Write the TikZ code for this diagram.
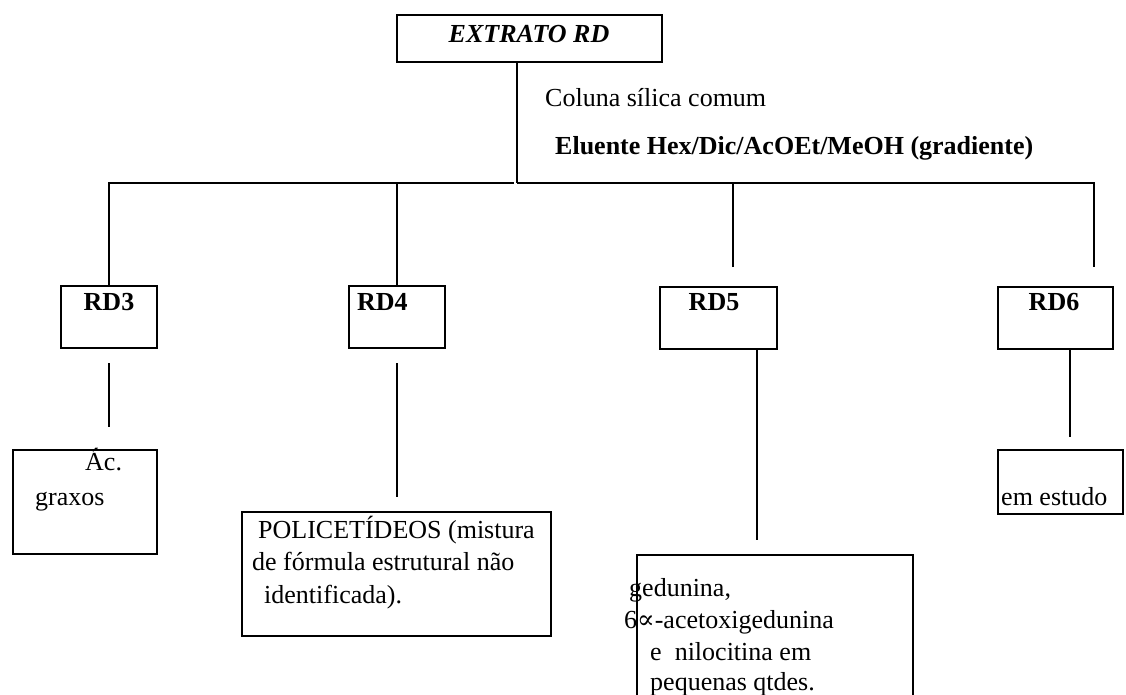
\documentclass[tikz,border=0pt]{standalone}
\usepackage{fontspec}
\setmainfont{Liberation Serif}
\newfontfamily\symbolfont{DejaVu Serif}
\begin{document}
\begin{tikzpicture}[x=1pt,y=-1pt,
  wire/.style={draw, line width=2.6pt},
  box/.style={draw, line width=2.6pt, rectangle, inner sep=0pt},
  lbl/.style={inner sep=0pt, anchor=base west, font=\fontsize{26}{32}\selectfont},
  hdr/.style={inner sep=0pt, anchor=base, font=\fontsize{26}{32}\selectfont\bfseries}]
\useasboundingbox (0,0) rectangle (1126,695);
\clip (0,0) rectangle (1126,695);

% boxes
\node[box, minimum width=265, minimum height=47] (top) at (529.5,38.5) {};
\node[box, minimum width=96,  minimum height=62] (rd3) at (109,317) {};
\node[box, minimum width=96,  minimum height=62] (rd4) at (397,317) {};
\node[box, minimum width=117, minimum height=62] (rd5) at (718.5,318) {};
\node[box, minimum width=115, minimum height=62] (rd6) at (1055.5,318) {};
\node[box, minimum width=144, minimum height=104] (ac)  at (85,502) {};
\node[box, minimum width=309, minimum height=124] (pol) at (396.5,574) {};
\node[box, minimum width=276, minimum height=165] (ged) at (775,637.5) {};
\node[box, minimum width=125, minimum height=64] (est) at (1060.5,482) {};

% box texts
\node[hdr, font=\fontsize{26}{32}\selectfont\bfseries\itshape] (tTop) at (529,43) {EXTRATO RD};
\node[hdr] (t3) at (109,310) {RD3};
\node[lbl, font=\fontsize{26}{32}\selectfont\bfseries] (t4) at (357,310) {RD4};
\node[hdr] (t5) at (714,310) {RD5};
\node[hdr] (t6) at (1054,310) {RD6};

\node[lbl] (ac1) at (85,470) {Ác.};
\node[lbl] (ac2) at (35,505) {graxos};

\node[lbl] (p1) at (258,538) {POLICETÍDEOS (mistura};
\node[lbl] (p2) at (252,570) {de fórmula estrutural não};
\node[lbl] (p3) at (264,603) {identificada).};

\node[lbl] (g1) at (629,596) {gedunina,};
\node[lbl] (g2) at (624,628) {6{\symbolfont ∝}-acetoxigedunina};
\node[lbl] (g3) at (650,660) {e\ \ nilocitina em};
\node[lbl] (g4) at (650,690) {pequenas qtdes.};

\node[lbl] (e1) at (1001,505) {em estudo};

% column labels
\node[lbl] (col) at (545,107) {Coluna sílica comum};
\node[lbl, font=\fontsize{26}{32}\selectfont\bfseries] (elu) at (555,155) {Eluente Hex/Dic/AcOEt/MeOH (gradiente)};

% branching lines
\coordinate (j)    at (517,183);
\coordinate (gapL) at (514,183);
\coordinate (hR)   at (1094,183);
\coordinate (c5)   at (733,267);
\coordinate (c6)   at (1094,267);

\draw[wire] (top.south -| j) -- (j);
\draw[wire, line join=miter] (rd3.north) -- (rd3.north |- j) -- (gapL);
\draw[wire, line join=miter] (j) -- (hR) -- (c6);
\draw[wire] (rd4.north) -- (rd4.north |- j);
\draw[wire] (c5) -- (c5 |- j);

% lower connectors
\coordinate (a3) at (109,363);
\coordinate (b3) at (109,427);
\coordinate (a4) at (397,363);
\coordinate (b4) at (397,497);
\coordinate (b5) at (757,540);
\coordinate (b6) at (1070,437);

\draw[wire] (a3) -- (b3);
\draw[wire] (a4) -- (b4);
\draw[wire] (rd5.south -| b5) -- (b5);
\draw[wire] (rd6.south -| b6) -- (b6);
\end{tikzpicture}
\end{document}
